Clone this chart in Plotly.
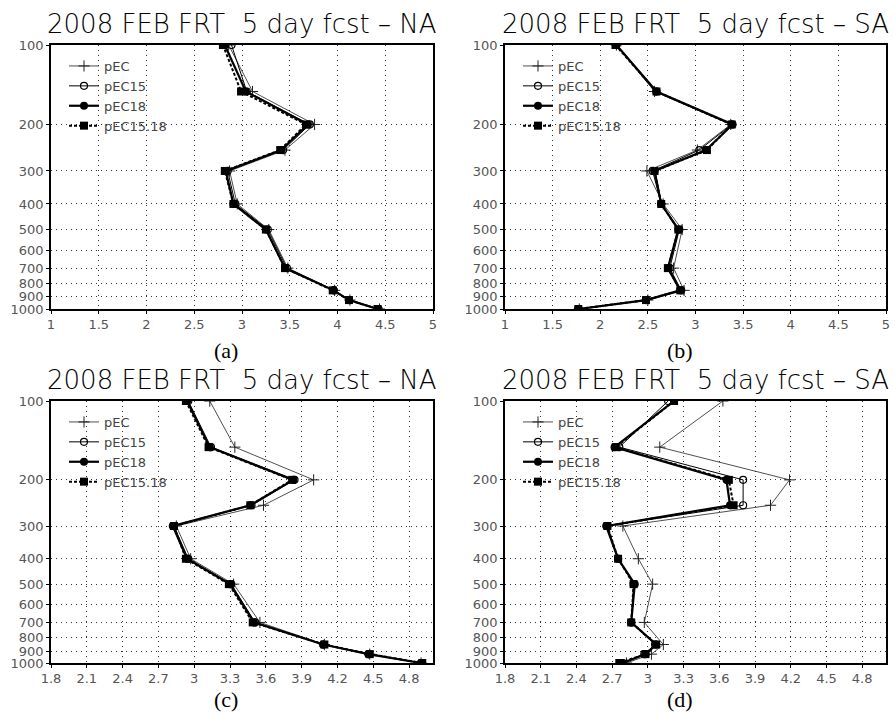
import plotly.graph_objects as go

# ---------------- data ----------------
levels = [100, 150, 200, 250, 300, 400, 500, 700, 850, 925, 1000]
series_names = ["pEC", "pEC15", "pEC18", "pEC15.18"]

# (a) NA, top row
a_pEC = [2.86, 3.11, 3.76, 3.45, 2.87, 2.95, 3.28, 3.48, 3.97, 4.13, 4.44]
a_pEC15 = [2.89, 3.05, 3.71, 3.43, 2.85, 2.93, 3.27, 3.47, 3.96, 4.12, 4.43]
a_pEC18 = [2.82, 3.04, 3.69, 3.41, 2.83, 2.91, 3.25, 3.45, 3.96, 4.12, 4.42]
a_pEC1518 = [2.80, 2.99, 3.67, 3.40, 2.82, 2.91, 3.25, 3.45, 3.95, 4.12, 4.42]

# (b) SA, top row
b_pEC = [2.17, 2.57, 3.37, 3.02, 2.49, 2.66, 2.86, 2.77, 2.88, 2.50, 1.78]
b_pEC15 = [2.17, 2.59, 3.38, 3.04, 2.55, 2.64, 2.83, 2.73, 2.85, 2.48, 1.77]
b_pEC18 = [2.17, 2.59, 3.39, 3.11, 2.57, 2.64, 2.82, 2.71, 2.84, 2.48, 1.77]
b_pEC1518 = [2.16, 2.59, 3.38, 3.12, 2.57, 2.64, 2.82, 2.71, 2.84, 2.48, 1.77]

# (c) NA, bottom row
c_pEC = [3.13, 3.34, 4.00, 3.58, 2.85, 2.97, 3.33, 3.55, 4.09, 4.47, 4.90]
c_pEC15 = [2.95, 3.14, 3.84, 3.48, 2.83, 2.95, 3.31, 3.51, 4.08, 4.46, 4.90]
c_pEC18 = [2.94, 3.13, 3.83, 3.47, 2.82, 2.94, 3.30, 3.50, 4.08, 4.46, 4.90]
c_pEC1518 = [2.93, 3.12, 3.82, 3.47, 2.83, 2.93, 3.29, 3.49, 4.09, 4.47, 4.91]

# (d) SA, bottom row
d_pEC = [3.63, 3.10, 4.19, 4.03, 2.79, 2.92, 3.04, 2.97, 3.13, 3.03, 2.82]
d_pEC15 = [3.17, 2.76, 3.80, 3.80, 2.66, 2.75, 2.88, 2.86, 3.06, 2.97, 2.78]
d_pEC18 = [3.22, 2.72, 3.66, 3.69, 2.65, 2.75, 2.89, 2.86, 3.07, 2.98, 2.79]
d_pEC1518 = [3.22, 2.73, 3.68, 3.72, 2.66, 2.75, 2.88, 2.86, 3.07, 2.98, 2.76]

panel_titles = [
    "2008 FEB FRT\u00a0 5 day fcst \u2013 NA",
    "2008 FEB FRT\u00a0 5 day fcst \u2013 SA",
    "2008 FEB FRT\u00a0 5 day fcst \u2013 NA",
    "2008 FEB FRT\u00a0 5 day fcst \u2013 SA",
]
panel_labels = ["(a)", "(b)", "(c)", "(d)"]

y_ticks = [100, 200, 300, 400, 500, 600, 700, 800, 900, 1000]
x_ticks_top = [1, 1.5, 2, 2.5, 3, 3.5, 4, 4.5, 5]
x_range_top = [1, 5]
x_ticks_bottom = [1.8, 2.1, 2.4, 2.7, 3.0, 3.3, 3.6, 3.9, 4.2, 4.5, 4.8]
x_range_bottom = [1.8, 5.0]

panel_series = [
    [a_pEC, a_pEC15, a_pEC18, a_pEC1518],
    [b_pEC, b_pEC15, b_pEC18, b_pEC1518],
    [c_pEC, c_pEC15, c_pEC18, c_pEC1518],
    [d_pEC, d_pEC15, d_pEC18, d_pEC1518],
]

# ---------------- layout ----------------
W, H = 895, 715
# panel boxes in pixels: left, right, top, bottom
boxes = [
    (51, 433, 45, 309),
    (505, 886, 45, 309),
    (51, 433, 401, 663),
    (505, 886, 401, 663),
]
label_y = [350, 350, 699, 699]

styles = [
    dict(line=dict(color="#222222", width=0.8),
         marker=dict(symbol="cross-thin", size=8, color="#222222",
                     line=dict(color="#222222", width=1))),
    dict(line=dict(color="black", width=1),
         marker=dict(symbol="circle-open", size=7, color="black",
                     line=dict(color="black", width=1.2))),
    dict(line=dict(color="black", width=2.2),
         marker=dict(symbol="circle", size=8, color="black")),
    dict(line=dict(color="black", width=2, dash="3px,2px"),
         marker=dict(symbol="square", size=8, color="black")),
]

tick_font = dict(family="DejaVu Sans", size=13, color="#555555")

fig = go.Figure()
layout = dict(
    width=W, height=H,
    margin=dict(l=0, r=0, t=0, b=0),
    paper_bgcolor="white", plot_bgcolor="white",
    showlegend=True,
    annotations=[],
)

for i in range(4):
    l, r, t, b = boxes[i]
    sfx = "" if i == 0 else str(i + 1)
    xa, ya = "x" + sfx, "y" + sfx
    leg = "legend" + sfx
    top_row = i < 2
    xt = x_ticks_top if top_row else x_ticks_bottom
    xr = x_range_top if top_row else x_range_bottom

    for k in range(4):
        fig.add_trace(go.Scatter(
            x=panel_series[i][k], y=levels, mode="lines+markers",
            name=series_names[k], xaxis=xa, yaxis=ya, legend=leg,
            line=styles[k]["line"], marker=styles[k]["marker"],
            hoverinfo="x+y+name",
        ))

    common = dict(
        showline=True, linecolor="black", linewidth=1.5, mirror=True,
        ticks="outside", ticklen=3, tickcolor="black", tickwidth=1,
        showgrid=True, gridcolor="#333333", gridwidth=1, griddash="1px,4px",
        zeroline=False, tickfont=tick_font, automargin=False,
    )
    layout["xaxis" + sfx] = dict(
        common, domain=[l / W, r / W], anchor=ya, range=xr,
        tickmode="array", tickvals=xt, ticktext=[f"{v:g}" for v in xt],
    )
    layout["yaxis" + sfx] = dict(
        common, domain=[1 - b / H, 1 - t / H], anchor=xa, type="log",
        range=[3, 2], tickmode="array", tickvals=y_ticks,
        ticktext=[str(v) for v in y_ticks],
    )
    layout[leg] = dict(
        x=(l + 13) / W, y=1 - (t + 6) / H, xanchor="left", yanchor="top",
        bgcolor="rgba(0,0,0,0)", borderwidth=0, itemwidth=30,
        font=dict(family="DejaVu Sans", size=13, color="#444444"),
        traceorder="normal", tracegroupgap=0,
    )
    # panel title
    layout["annotations"].append(dict(
        text=panel_titles[i], xref="paper", yref="paper",
        x=(l + r) / 2 / W, y=1 - (t - 21) / H, xanchor="center",
        yanchor="middle", showarrow=False,
        font=dict(family="DejaVu Sans", size=26, color="black", weight=200),
    ))
    # panel label
    layout["annotations"].append(dict(
        text=panel_labels[i], xref="paper", yref="paper",
        x=((l + r) / 2 - 16) / W, y=1 - label_y[i] / H, xanchor="center",
        yanchor="middle", showarrow=False,
        font=dict(family="Liberation Serif", size=22, color="black"),
    ))

fig.update_layout(**layout)
fig.write_html(
    "out.html",
    config={"displayModeBar": False},
    post_script="document.body.style.margin='0';document.body.style.overflow='hidden';",
)
